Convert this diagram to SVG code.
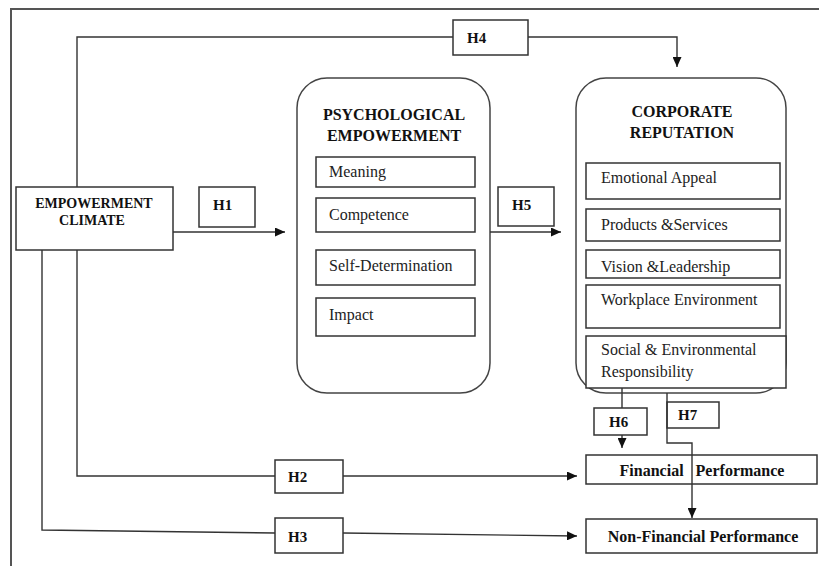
<svg xmlns="http://www.w3.org/2000/svg" width="819" height="566" viewBox="0 0 819 566">
<style>
.bx{fill:#fff;stroke:#333;stroke-width:1.5}
.rb{fill:#fff;stroke:#444;stroke-width:1.5}
.ln{fill:none;stroke:#333;stroke-width:1.4}
.t{font-family:"Liberation Serif","Times New Roman",serif;font-size:16px;fill:#222}
.b{font-family:"Liberation Serif","Times New Roman",serif;font-weight:bold;font-size:16px;fill:#111}
.h{font-family:"Liberation Serif","Times New Roman",serif;font-weight:bold;font-size:15px;fill:#111}
</style>
<defs>
<marker id="ar" markerUnits="userSpaceOnUse" markerWidth="10" markerHeight="9" refX="10" refY="4.5" orient="auto">
<path d="M0,0 L10,4.5 L0,9 z" fill="#111"/>
</marker>
</defs>
<rect width="819" height="566" fill="#fff"/>
<path d="M11,566 V9 H819" fill="none" stroke="#555" stroke-width="2"/>

<g id="empowerment-climate">
<rect class="bx" x="16" y="187" width="157" height="63"/>
<text class="b" style="font-size:14px" x="94" y="208" text-anchor="middle">EMPOWERMENT</text>
<text class="b" style="font-size:14px" x="92" y="225" text-anchor="middle">CLIMATE</text>
</g>

<g id="h1"><rect class="bx" x="199" y="187" width="56" height="40"/><text class="h" x="213" y="210">H1</text></g>
<g id="h4"><rect class="bx" x="453" y="20" width="75" height="35"/><text class="h" x="467" y="43">H4</text></g>
<g id="h5"><rect class="bx" x="498" y="187" width="56" height="39"/><text class="h" x="512" y="210">H5</text></g>
<g id="h2"><rect class="bx" x="275" y="460" width="68" height="33"/><text class="h" x="288" y="482">H2</text></g>
<g id="h3"><rect class="bx" x="275" y="518" width="68" height="35"/><text class="h" x="288" y="542">H3</text></g>
<g id="h6"><rect class="bx" x="594" y="408" width="53" height="27"/><text class="h" x="609" y="427">H6</text></g>
<g id="h7"><rect class="bx" x="667" y="402" width="52" height="26"/><text class="h" x="678" y="420">H7</text></g>

<g id="psychological-empowerment">
<rect class="rb" x="297" y="78" width="193" height="315" rx="30"/>
<text class="b" x="394" y="120" text-anchor="middle">PSYCHOLOGICAL</text>
<text class="b" x="394" y="141" text-anchor="middle">EMPOWERMENT</text>
<rect class="bx" x="316" y="157" width="159" height="30"/>
<text class="t" x="329" y="177">Meaning</text>
<rect class="bx" x="316" y="198" width="159" height="34"/>
<text class="t" x="329" y="220">Competence</text>
<rect class="bx" x="316" y="250" width="159" height="35"/>
<text class="t" x="329" y="271">Self-Determination</text>
<rect class="bx" x="316" y="298" width="159" height="38"/>
<text class="t" x="329" y="320">Impact</text>
</g>

<g id="corporate-reputation">
<rect class="rb" x="576" y="78" width="210" height="315" rx="30"/>
<text class="b" x="682" y="117" text-anchor="middle">CORPORATE</text>
<text class="b" x="682" y="138" text-anchor="middle">REPUTATION</text>
<rect class="bx" x="586" y="163" width="194" height="36"/>
<text class="t" x="601" y="183">Emotional Appeal</text>
<rect class="bx" x="586" y="209" width="194" height="32"/>
<text class="t" x="601" y="230">Products &amp;Services</text>
<rect class="bx" x="586" y="250" width="194" height="28"/>
<text class="t" x="601" y="272">Vision &amp;Leadership</text>
<rect class="bx" x="586" y="285" width="194" height="43"/>
<text class="t" x="601" y="305">Workplace Environment</text>
<rect class="bx" x="586" y="336" width="200" height="52"/>
<text class="t" x="601" y="355">Social &amp; Environmental</text>
<text class="t" x="601" y="377">Responsibility</text>
</g>

<g id="financial-performance">
<rect class="bx" x="586" y="455" width="231" height="29"/>
<text class="b" x="702" y="476" text-anchor="middle" xml:space="preserve">Financial   Performance</text>
</g>

<g id="non-financial-performance">
<rect class="bx" x="586" y="519" width="231" height="34"/>
<text class="b" x="703" y="542" text-anchor="middle">Non-Financial Performance</text>
</g>

<g id="connectors">
<path class="ln" d="M77,187 V37 H453"/>
<path class="ln" d="M528,37 H677 V67" marker-end="url(#ar)"/>
<path class="ln" d="M173,232 H285" marker-end="url(#ar)"/>
<path class="ln" d="M490,232 H561" marker-end="url(#ar)"/>
<path class="ln" d="M77,250 V476 H275"/>
<path class="ln" d="M343,476 H577" marker-end="url(#ar)"/>
<path class="ln" d="M42,250 V530 L275,533"/>
<path class="ln" d="M343,533 L577,536" marker-end="url(#ar)"/>
<path class="ln" d="M622,388 V408"/>
<path class="ln" d="M622,435 V448" marker-end="url(#ar)"/>
<path class="ln" d="M667,393 V443 H692 V518" marker-end="url(#ar)"/>
</g>
</svg>
